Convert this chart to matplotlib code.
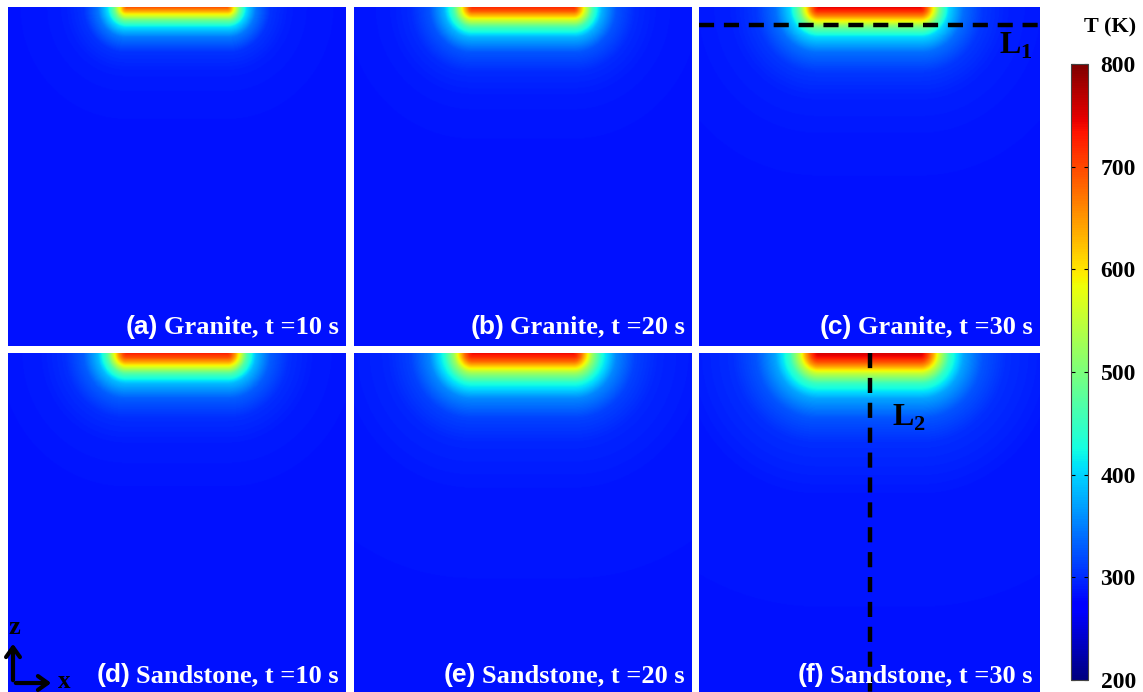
import matplotlib.pyplot as plt
import numpy as np

plt.rcParams['mathtext.fontset'] = 'custom'
plt.rcParams['mathtext.bf'] = 'Liberation Serif:bold'
plt.rcParams['mathtext.rm'] = 'Liberation Serif'

labels = ['(a)', '(b)', '(c)', '(d)', '(e)', '(f)']
materials = ['Granite', 'Granite', 'Granite', 'Sandstone', 'Sandstone', 'Sandstone']
times = [10, 20, 30, 10, 20, 30]

# depth below the heated spot (fraction of domain height) and temperature (K) read along it
depth = np.array([0, 4, 8, 13, 20, 30, 45, 65, 90, 140, 338]) / 338.0
temp_a = [690, 635, 570, 485, 405, 345, 305, 292, 288, 285, 285]
temp_b = [720, 685, 630, 555, 460, 380, 325, 300, 290, 286, 285]
temp_c = [745, 715, 670, 595, 490, 400, 340, 308, 294, 287, 285]
temp_d = [725, 695, 650, 575, 470, 385, 330, 302, 291, 286, 285]
temp_e = [740, 715, 680, 615, 520, 430, 355, 314, 297, 288, 285]
temp_f = [755, 735, 700, 645, 550, 450, 372, 325, 302, 289, 285]
profiles = [temp_a, temp_b, temp_c, temp_d, temp_e, temp_f]

spot_halfwidth = 0.15   # heated spot half width, fraction of domain width
Tmin, Tmax = 200, 800
cbar_ticks = [200, 300, 400, 500, 600, 700, 800]

fig = plt.figure(figsize=(11.43, 6.92), dpi=100)

# panel boxes in figure pixels
W, H = 1143.0, 692.0
cols = [(8, 338), (354, 338), (699, 341)]
rows = [(7, 339), (353, 339)]

x = np.linspace(-0.5, 0.5, 400)
z = np.linspace(0, 1, 400)
X, Z = np.meshgrid(x, z)
dist = np.hypot(np.maximum(np.abs(X) - spot_halfwidth, 0) * 1.05, Z)

axes = []
for i in range(6):
    r, c = divmod(i, 3)
    x0, w = cols[c]
    y0, h = rows[r]
    ax = fig.add_axes([x0 / W, 1 - (y0 + h) / H, w / W, h / H])
    T = np.interp(dist, depth, profiles[i])
    im = ax.imshow(T, cmap='jet', vmin=Tmin, vmax=Tmax, extent=(-0.5, 0.5, -1, 0),
                   aspect='auto', interpolation='bilinear')
    ax.set_xlim(-0.5, 0.5)
    ax.set_ylim(-1, 0)
    ax.axis('off')
    ybase = 0.022 if r == 0 else 0.014
    txt = ax.text(0.978, ybase, '%s, t =%d s' % (materials[i], times[i]), transform=ax.transAxes,
                  ha='right', va='bottom', color='white', fontsize=19, fontweight='bold',
                  family='Liberation Serif')
    ax.annotate(labels[i], xy=(0, 0), xycoords=txt, xytext=(-4, 0), textcoords='offset points',
                ha='right', va='bottom', color='white', fontsize=19, fontweight='bold',
                family='Liberation Sans')
    axes.append(ax)

# probe lines
axes[2].plot([-0.5, 0.5], [-18 / 338.0, -18 / 338.0], color='black', lw=3.2, ls=(0, (3.4, 2.2)))
axes[2].text(0.93, 0.885, r'$\mathbf{L}_\mathbf{1}$', transform=axes[2].transAxes,
             ha='center', va='center', fontsize=23, color='black')
axes[5].plot([0, 0], [0, -1], color='black', lw=3.2, ls=(0, (3.4, 2.2)))
axes[5].text(0.615, 0.81, r'$\mathbf{L}_\mathbf{2}$', transform=axes[5].transAxes,
             ha='center', va='center', fontsize=23, color='black')

# coordinate triad
corner = (13 / W, 1 - 683 / H)
fig.add_artist(plt.matplotlib.patches.FancyArrowPatch(corner, (13 / W, 1 - 641 / H),
               transform=fig.transFigure, arrowstyle='->,head_length=7,head_width=5', lw=3, color='black'))
fig.add_artist(plt.matplotlib.patches.FancyArrowPatch(corner, (54 / W, 1 - 683 / H),
               transform=fig.transFigure, arrowstyle='->,head_length=7,head_width=5', lw=3, color='black'))
fig.text(14 / W, 1 - 627 / H, 'z', ha='center', va='center', fontsize=19, fontweight='bold',
         family='Liberation Serif')
fig.text(64 / W, 1 - 681 / H, 'x', ha='center', va='center', fontsize=18, fontweight='bold',
         family='Liberation Serif')

# colorbar
cax = fig.add_axes([1071 / W, 1 - 680 / H, 17 / W, 616 / H])
cb = fig.colorbar(im, cax=cax, ticks=cbar_ticks)
cb.outline.set_linewidth(0.8)
cb.outline.set_edgecolor('#444444')
cax.tick_params(direction='in', length=3, width=0.8, left=True, right=True, pad=9)
for lab in cax.get_yticklabels():
    lab.set_fontsize(17)
    lab.set_fontweight('bold')
    lab.set_family('Liberation Serif')
fig.text(1110 / W, 1 - 27 / H, 'T (K)', ha='center', va='center', fontsize=16, fontweight='bold',
         family='Liberation Serif')

fig.savefig('out.png', dpi=100)
